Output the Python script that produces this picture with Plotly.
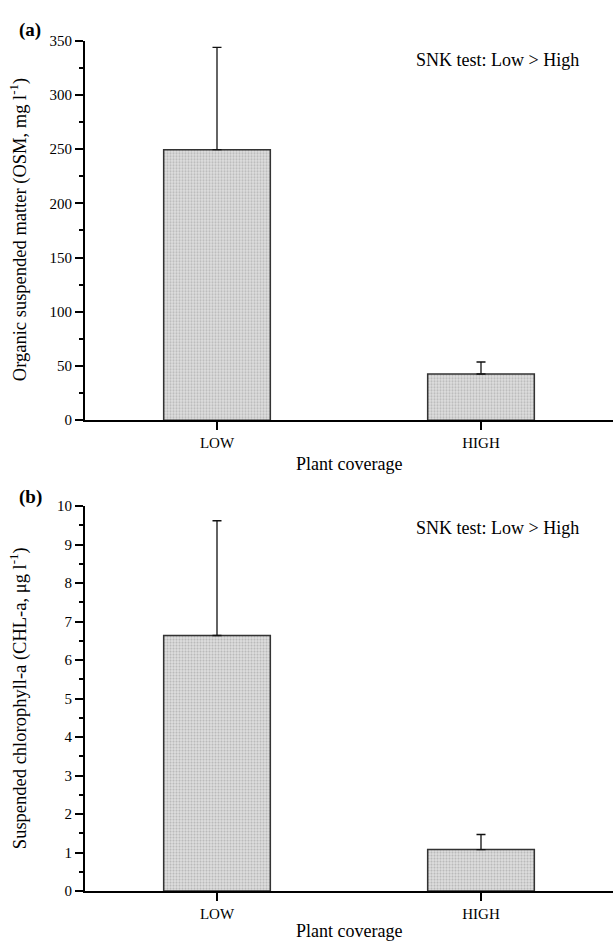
import plotly.graph_objects as go

categories = ["LOW", "HIGH"]
osm_mean = [249.5, 42.6]
osm_err = [94.4, 11.1]
chl_mean = [6.64, 1.08]
chl_err = [2.98, 0.39]

W, H = 613, 946
FONT = "Liberation Serif, Times New Roman, serif"

def py(px):
    return 1 - px / H

fig = go.Figure()

bar_style = dict(
    width=0.404,
    marker=dict(
        color="#d4d4d4",
        line=dict(color="#333333", width=1.5),
        pattern=dict(shape=".", fgcolor="#909090", bgcolor="#dedede", size=3, solidity=0.4),
    ),
    showlegend=False,
)

fig.add_trace(go.Bar(
    x=categories, y=osm_mean, xaxis="x", yaxis="y",
    error_y=dict(type="data", array=osm_err, arrayminus=[0, 0], symmetric=False,
                 color="#111111", thickness=1.3, width=4.5),
    **bar_style))
fig.add_trace(go.Bar(
    x=categories, y=chl_mean, xaxis="x2", yaxis="y2",
    error_y=dict(type="data", array=chl_err, arrayminus=[0, 0], symmetric=False,
                 color="#111111", thickness=1.3, width=4.5),
    **bar_style))

xd = [85 / W, 1.0]
axis_common = dict(showline=True, linecolor="black", linewidth=2, ticks="outside",
                   tickcolor="black", tickwidth=1.5, ticklen=8,
                   tickfont=dict(family=FONT, size=15, color="black"),
                   showgrid=False, zeroline=False)

fig.update_layout(
    width=W, height=H,
    margin=dict(l=0, r=0, t=0, b=0),
    paper_bgcolor="white", plot_bgcolor="white",
    font=dict(family=FONT, color="black"),
    bargap=0.5,
    xaxis=dict(domain=xd, anchor="y", range=[-0.5, 1.5], **axis_common),
    yaxis=dict(domain=[py(419.3), py(33.3)], anchor="x", range=[0, 350], dtick=50,
               minor=dict(ticks="outside", ticklen=4, dtick=25, tickcolor="black", tickwidth=1.5),
               **axis_common),
    xaxis2=dict(domain=xd, anchor="y2", range=[-0.5, 1.5], **axis_common),
    yaxis2=dict(domain=[py(898.3), py(506.7)], anchor="x2", range=[0, 10], dtick=1,
                minor=dict(ticks="outside", ticklen=4, dtick=0.5, tickcolor="black", tickwidth=1.5),
                **axis_common),
)

# x-axis line extends slightly left of the y axis
for yref in ["y", "y2"]:
    fig.add_shape(type="line", xref="paper", yref=yref, x0=76.7 / W, x1=85 / W, y0=0, y1=0,
                  line=dict(color="black", width=2))

ann = []
def add_text(text, x, y, size=18, angle=0, xanchor="center", yanchor="middle"):
    ann.append(dict(text=text, x=x / W, y=py(y), xref="paper", yref="paper", showarrow=False,
                    textangle=angle, xanchor=xanchor, yanchor=yanchor,
                    font=dict(family=FONT, size=size, color="black")))

add_text("<b>(a)</b>", 17, 22, size=19, xanchor="left")
add_text("<b>(b)</b>", 17, 497, size=19, xanchor="left")
add_text("SNK test: Low &gt; High", 497, 53)
add_text("SNK test: Low &gt; High", 497, 529)
add_text("Plant coverage", 349, 464)
add_text("Plant coverage", 349, 939)
add_text("Organic suspended matter (OSM, mg l<sup>-1</sup>)", 18, 226, size=18.5, angle=-90)
add_text("Suspended chlorophyll-a (CHL-a, μg l<sup>-1</sup>)", 18, 702, size=18.5, angle=-90)
fig.update_layout(annotations=ann)

fig.write_html("out.html", config={"displayModeBar": False},
               post_script="document.body.style.margin='0px';document.body.style.overflow='hidden';")
